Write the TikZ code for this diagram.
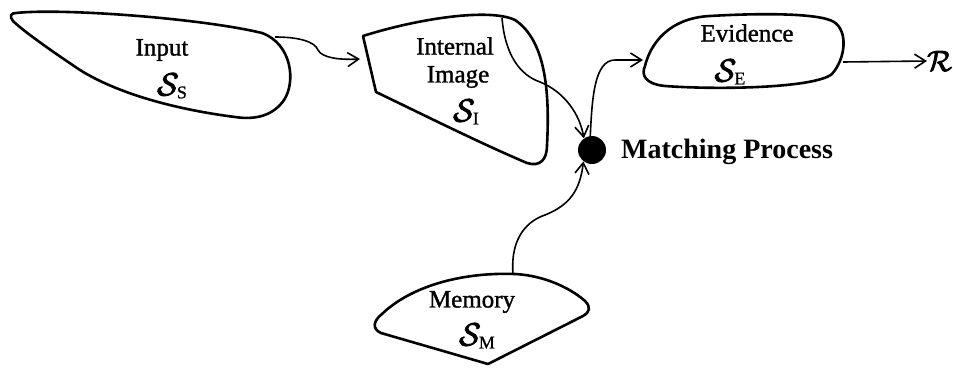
\RequirePackage{fix-cm}
\documentclass[tikz,border=0pt]{standalone}
\usepackage{fontspec}
\setmainfont{Liberation Serif}
\newfontfamily\lblfont[RawFeature={embolden=1.3}]{Liberation Serif}
\newfontfamily\subfont[RawFeature={embolden=1.0}]{Liberation Serif}
\usetikzlibrary{arrows.meta}
\newcommand{\heavy}[1]{\special{pdf:literal 2 Tr 0.9 w}#1\special{pdf:literal 0 Tr}}
\newcommand{\calSet}[1]{{\fontsize{32}{32}\selectfont\heavy{$\mathcal{S}$}}\kern-2pt{\fontsize{18}{18}\subfont\raisebox{-3pt}{#1}}}
\begin{document}
\begin{tikzpicture}[x=1pt,y=-1pt,
  blob/.style={line width=2.6pt, line join=round},
  conn/.style={line width=1.6pt, -{Straight Barb[length=11pt,width=14pt,line width=1.6pt]}},
  lbl/.style={font=\fontsize{25}{27}\lblfont, inner sep=0pt, align=center},
  sym/.style={inner sep=0pt}]
\useasboundingbox (0,0) rectangle (953,367);
% Input shape
\draw[blob] (16,13) .. controls (60,8) and (200,18) .. (262,33)
  .. controls (292,44) and (296,82) .. (284,100)
  .. controls (273,116) and (255,120) .. (235,117)
  .. controls (180,110) and (120,95) .. (80,70)
  .. controls (50,50) and (22,30) .. (13,21)
  .. controls (9,16) and (11,13) .. (16,13) -- cycle;
% Internal image shape
\draw[blob] (363,36) -- (376,92)
  .. controls (430,118) and (480,143) .. (527,163)
  .. controls (540,167) and (547,160) .. (547,145)
  .. controls (550,90) and (545,40) .. (515,20)
  .. controls (490,8) and (420,18) .. (363,36) -- cycle;
% Evidence shape
\draw[blob] (645,66) .. controls (650,45) and (668,18) .. (710,16)
  .. controls (760,13) and (820,13) .. (834,22)
  .. controls (848,31) and (846,58) .. (832,74)
  .. controls (815,88) and (720,90) .. (665,86)
  .. controls (645,84) and (641,75) .. (645,66) -- cycle;
% Memory shape
\draw[blob] (381,333) .. controls (372,329) and (373,321) .. (382,314)
  .. controls (410,287) and (460,272) .. (515,274)
  .. controls (550,276) and (575,292) .. (585,301)
  .. controls (591,307) and (590,312) .. (583,316)
  -- (488,364) -- cycle;
% labels
\node[lbl] (tin) at (162,50) {Input};
\node[sym] (sin) at (172,86) {\calSet{S}};
\node[lbl] (tint) at (455,46) {Internal};
\node[lbl] (timg) at (458,77) {Image};
\node[sym] (sint) at (466,112) {\calSet{I}};
\node[lbl] (tev) at (747,33) {Evidence};
\node[sym] (sev) at (730,72) {\calSet{E}};
\node[lbl] (tmem) at (472,302) {Memory};
\node[sym] (smem) at (477,336) {\calSet{M}};
\node[circle, fill=black, minimum size=28pt, inner sep=0pt] (mp) at (592,150) {};
\node[anchor=west, inner sep=0pt, font=\fontsize{28}{30}\selectfont\bfseries] (tmp) at (621,152) {Matching Process};
\node[sym, anchor=west] (R) at (927,61) {\fontsize{29}{29}\selectfont\heavy{$\mathcal{R}$}};
% connector end points
\coordinate (inOut) at (275,37);
\coordinate (imgIn) at (360,59);
\coordinate (imgInner) at (502,18);
\coordinate (evIn) at (643,60);
\coordinate (evOut) at (843,62);
\coordinate (memTop) at (513,274);
% connectors
\draw[conn] (inOut) .. controls (300,37) and (315,42) .. (318,50)
  .. controls (322,58) and (340,60) .. (imgIn);
\draw[conn] (imgInner) .. controls (505,55) and (520,75) .. (540,82)
  .. controls (565,92) and (580,115) .. (mp.125);
\draw[conn] (mp.97) .. controls (592,100) and (594,60) .. (615,60) -- (evIn);
\draw[conn] (memTop) .. controls (510,235) and (530,220) .. (545,215)
  .. controls (570,205) and (580,190) .. (mp.233);
\draw[conn] (evOut) -- (R.west);
\end{tikzpicture}
\end{document}
